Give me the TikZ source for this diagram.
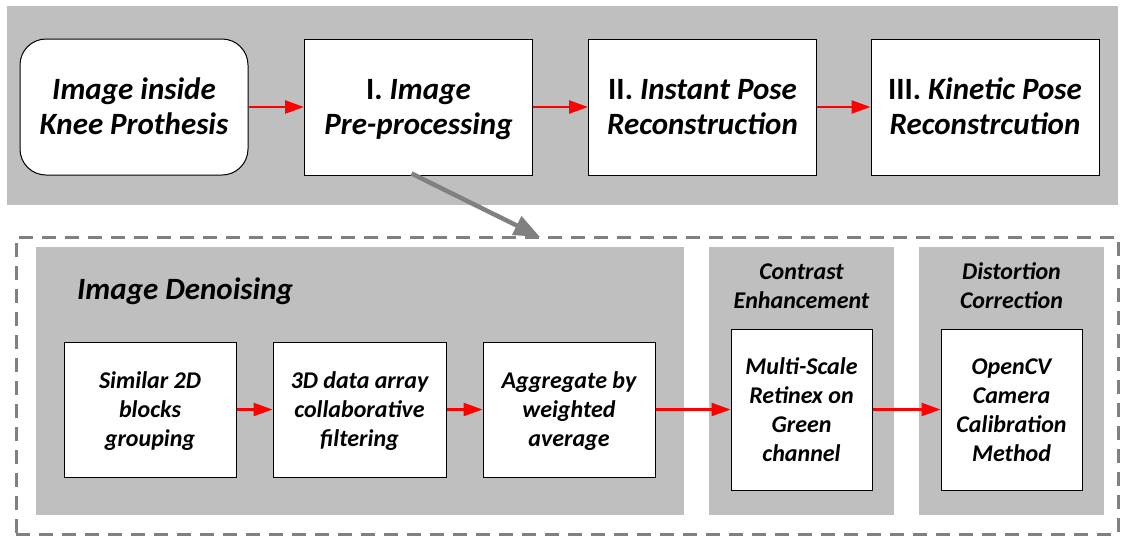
\documentclass[tikz,border=0pt]{standalone}
\usepackage{fontspec}
\setmainfont{Carlito}
\usetikzlibrary{arrows.meta}
\definecolor{panelgray}{RGB}{191,191,191}
\definecolor{linegray}{RGB}{128,128,128}
\newcommand{\ls}{\rule[-0.22\baselineskip]{0pt}{\baselineskip}}
\tikzset{
  panel/.style={fill=panelgray, draw=none, anchor=north west, inner sep=0pt},
  bigbox/.style={draw=black, fill=white, line width=1pt, minimum width=228pt, minimum height=136pt, inner sep=0pt, align=center, font=\fontsize{31}{35}\selectfont\bfseries\itshape},
  subbox/.style={draw=black, fill=white, line width=1pt, minimum height=135pt, inner sep=0pt, align=center, font=\fontsize{24}{29}\selectfont\bfseries\itshape},
  tallbox/.style={draw=black, fill=white, line width=1pt, minimum width=141pt, minimum height=161pt, inner sep=0pt, align=center, font=\fontsize{24}{29}\selectfont\bfseries\itshape},
  ttl/.style={align=center, inner sep=0pt, font=\fontsize{24}{29}\selectfont\bfseries\itshape},
  redarrow/.style={draw=red, line width=2.4pt, -{Triangle[length=19pt,width=13pt]}},
  grayarrow/.style={draw=linegray, line width=4.5pt, -{Triangle[length=26pt,width=20pt]}},
  dashbox/.style={draw=linegray, line width=2.5pt, dash pattern=on 14pt off 9pt, anchor=north west, inner sep=0pt}
}
\begin{document}
\begin{tikzpicture}[x=1pt,y=-1pt]
\useasboundingbox (0,0) rectangle (1123,536);
% top panel
\node[panel, minimum width=1111pt, minimum height=199pt] (top) at (7,6) {};
\node[bigbox, rounded corners=26pt] (b1) at (134,107) {\ls Image inside\\\ls Knee Prothesis};
\node[bigbox] (b2) at (418.5,107) {\ls\textup{I.} Image\\\ls Pre-processing};
\node[bigbox] (b3) at (702.5,107) {\ls\textup{II.} Instant Pose\\\ls Reconstruction};
\node[bigbox] (b4) at (985,107) {\ls\textup{III.} Kinetic Pose\\\ls Reconstrcution};
\draw[redarrow] (b1) -- (b2);
\draw[redarrow] (b2) -- (b3);
\draw[redarrow] (b3) -- (b4);
% bottom dashed frame
\node[dashbox, minimum width=1102pt, minimum height=297pt] (frame) at (15,236) {};
\coordinate (tipend) at (540,237);
\draw[grayarrow] ([xshift=-7pt,yshift=2pt]b2.south) -- (tipend);
% panels
\node[panel, minimum width=648pt, minimum height=268pt] (pden) at (36,247) {};
\node[panel, minimum width=185pt, minimum height=268pt] (pcon) at (709,247) {};
\node[panel, minimum width=185pt, minimum height=268pt] (pdis) at (919,247) {};
\node[anchor=base west, inner sep=0pt, font=\fontsize{31}{35}\selectfont\bfseries\itshape] (lden) at (77,299) {Image Denoising};
\node[ttl] (lcon) at (801.5,285.5) {\ls Contrast\\\ls Enhancement};
\node[ttl] (ldis) at (1011.5,285.5) {\ls Distortion\\\ls Correction};
% sub boxes
\node[subbox, minimum width=172pt] (s1) at (150,409.5) {\ls Similar 2D\\\ls blocks\\\ls grouping};
\node[subbox, minimum width=173pt] (s2) at (359.5,409.5) {\ls 3D data array\\\ls collaborative\\\ls filtering};
\node[subbox, minimum width=172pt] (s3) at (569,409.5) {\ls Aggregate by\\\ls weighted\\\ls average};
\node[tallbox] (c1) at (801.5,409.5) {\ls Multi-Scale\\\ls Retinex on\\\ls Green\\\ls channel};
\node[tallbox] (d1) at (1011.5,409.5) {\ls OpenCV\\\ls Camera\\\ls Calibration\\\ls Method};
\draw[redarrow] (s1) -- (s2);
\draw[redarrow] (s2) -- (s3);
\draw[redarrow] (s3) -- (c1);
\draw[redarrow] (c1) -- (d1);
\end{tikzpicture}
\end{document}
